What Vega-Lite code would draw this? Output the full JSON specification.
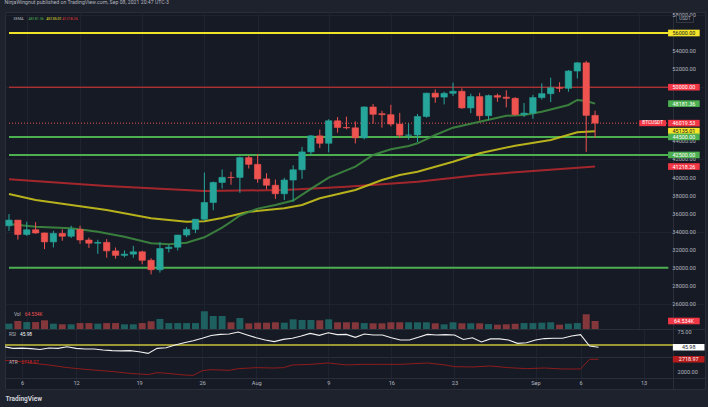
{
  "$schema": "https://vega.github.io/schema/vega-lite/v6.json",
  "background": "#1e222d",
  "padding": {"left": 4, "right": 4, "top": 0, "bottom": 4},
  "spacing": 0,
  "bounds": "flush",
  "title": {"text": "NinjaWingnut published on TradingView.com, Sep 08, 2021 20:47 UTC-3", "anchor": "start", "fontSize": 5.2, "fontWeight": "normal", "color": "#b2b5be", "offset": 9.5, "dy": 3.5},
  "config": {
    "font": "Roboto",
    "view": {"stroke": "#2a2e39", "fill": "#161a25"},
    "concat": {"spacing": 0},
    "axis": {"labelOverlap": false, "minExtent": 0}
  },
  "datasets": {
    "candles": [
      {"date":"2021-07-04","o":34655,"h":35950,"l":34099,"c":35287,"v":43,"dir":"up"},
      {"date":"2021-07-05","o":35287,"h":35293,"l":33125,"c":33690,"v":65,"dir":"down"},
      {"date":"2021-07-06","o":33690,"h":35118,"l":33532,"c":34220,"v":56,"dir":"up"},
      {"date":"2021-07-07","o":34220,"h":35059,"l":33777,"c":33862,"v":56,"dir":"down"},
      {"date":"2021-07-08","o":33862,"h":33900,"l":32077,"c":32875,"v":70,"dir":"down"},
      {"date":"2021-07-09","o":32875,"h":34100,"l":32261,"c":33815,"v":43,"dir":"up"},
      {"date":"2021-07-10","o":33815,"h":34262,"l":33004,"c":33502,"v":38,"dir":"down"},
      {"date":"2021-07-11","o":33502,"h":34666,"l":33306,"c":34259,"v":38,"dir":"up"},
      {"date":"2021-07-12","o":34259,"h":34679,"l":32658,"c":33086,"v":48,"dir":"down"},
      {"date":"2021-07-13","o":33086,"h":33340,"l":32203,"c":32729,"v":48,"dir":"down"},
      {"date":"2021-07-14","o":32729,"h":33114,"l":31550,"c":32820,"v":43,"dir":"up"},
      {"date":"2021-07-15","o":32820,"h":33185,"l":31133,"c":31880,"v":48,"dir":"down"},
      {"date":"2021-07-16","o":31874,"h":32249,"l":31020,"c":31383,"v":48,"dir":"down"},
      {"date":"2021-07-17","o":31384,"h":31935,"l":31164,"c":31520,"v":38,"dir":"up"},
      {"date":"2021-07-18","o":31520,"h":32435,"l":31108,"c":31778,"v":38,"dir":"up"},
      {"date":"2021-07-19","o":31778,"h":31899,"l":30407,"c":30839,"v":48,"dir":"down"},
      {"date":"2021-07-20","o":30839,"h":31063,"l":29278,"c":29790,"v":62,"dir":"down"},
      {"date":"2021-07-21","o":29790,"h":32858,"l":29482,"c":32144,"v":81,"dir":"up"},
      {"date":"2021-07-22","o":32144,"h":32591,"l":31708,"c":32287,"v":48,"dir":"up"},
      {"date":"2021-07-23","o":32287,"h":33650,"l":31925,"c":33634,"v":48,"dir":"up"},
      {"date":"2021-07-24","o":33634,"h":34500,"l":33401,"c":34258,"v":48,"dir":"up"},
      {"date":"2021-07-25","o":34262,"h":35398,"l":33851,"c":35381,"v":48,"dir":"up"},
      {"date":"2021-07-26","o":35381,"h":40550,"l":35205,"c":37237,"v":143,"dir":"up"},
      {"date":"2021-07-27","o":37237,"h":39542,"l":36383,"c":39457,"v":105,"dir":"up"},
      {"date":"2021-07-28","o":39456,"h":40900,"l":38772,"c":40019,"v":105,"dir":"up"},
      {"date":"2021-07-29","o":40019,"h":40640,"l":39200,"c":39990,"v":54,"dir":"down"},
      {"date":"2021-07-30","o":40016,"h":42316,"l":38313,"c":42206,"v":89,"dir":"up"},
      {"date":"2021-07-31","o":42206,"h":42448,"l":41000,"c":41461,"v":46,"dir":"down"},
      {"date":"2021-08-01","o":41461,"h":42599,"l":39422,"c":39846,"v":51,"dir":"down"},
      {"date":"2021-08-02","o":39850,"h":40480,"l":38690,"c":39147,"v":51,"dir":"down"},
      {"date":"2021-08-03","o":39146,"h":39780,"l":37642,"c":38207,"v":54,"dir":"down"},
      {"date":"2021-08-04","o":38207,"h":39969,"l":37508,"c":39723,"v":51,"dir":"up"},
      {"date":"2021-08-05","o":39723,"h":41350,"l":37332,"c":40862,"v":78,"dir":"up"},
      {"date":"2021-08-06","o":40862,"h":43392,"l":39853,"c":42836,"v":73,"dir":"up"},
      {"date":"2021-08-07","o":42836,"h":44700,"l":42446,"c":44614,"v":73,"dir":"up"},
      {"date":"2021-08-08","o":44614,"h":45310,"l":43261,"c":43792,"v":70,"dir":"down"},
      {"date":"2021-08-09","o":43794,"h":46454,"l":42779,"c":46285,"v":78,"dir":"up"},
      {"date":"2021-08-10","o":46280,"h":46700,"l":44961,"c":45543,"v":54,"dir":"down"},
      {"date":"2021-08-11","o":45543,"h":46743,"l":45341,"c":45500,"v":54,"dir":"down"},
      {"date":"2021-08-12","o":45500,"h":46218,"l":43770,"c":44400,"v":54,"dir":"down"},
      {"date":"2021-08-13","o":44400,"h":47886,"l":44217,"c":47810,"v":48,"dir":"up"},
      {"date":"2021-08-14","o":47810,"h":48144,"l":45971,"c":47000,"v":46,"dir":"down"},
      {"date":"2021-08-15","o":47070,"h":47390,"l":45525,"c":46960,"v":46,"dir":"down"},
      {"date":"2021-08-16","o":46960,"h":48054,"l":45660,"c":45921,"v":54,"dir":"down"},
      {"date":"2021-08-17","o":45920,"h":47160,"l":44376,"c":44686,"v":54,"dir":"down"},
      {"date":"2021-08-18","o":44687,"h":46000,"l":44203,"c":44710,"v":54,"dir":"up"},
      {"date":"2021-08-19","o":44710,"h":47033,"l":43927,"c":46760,"v":54,"dir":"up"},
      {"date":"2021-08-20","o":46760,"h":49382,"l":46622,"c":49339,"v":54,"dir":"up"},
      {"date":"2021-08-21","o":49339,"h":49757,"l":48273,"c":48905,"v":46,"dir":"down"},
      {"date":"2021-08-22","o":48906,"h":49500,"l":48100,"c":49321,"v":38,"dir":"up"},
      {"date":"2021-08-23","o":49322,"h":50500,"l":49029,"c":49546,"v":54,"dir":"up"},
      {"date":"2021-08-24","o":49546,"h":49875,"l":47600,"c":47706,"v":46,"dir":"down"},
      {"date":"2021-08-25","o":47707,"h":49284,"l":47120,"c":48960,"v":46,"dir":"up"},
      {"date":"2021-08-26","o":48960,"h":49380,"l":46300,"c":46842,"v":46,"dir":"down"},
      {"date":"2021-08-27","o":46843,"h":49188,"l":46361,"c":49070,"v":40,"dir":"up"},
      {"date":"2021-08-28","o":49070,"h":49300,"l":48381,"c":48895,"v":35,"dir":"down"},
      {"date":"2021-08-29","o":48895,"h":49658,"l":47762,"c":48768,"v":38,"dir":"down"},
      {"date":"2021-08-30","o":48767,"h":48910,"l":46853,"c":46970,"v":43,"dir":"down"},
      {"date":"2021-08-31","o":46970,"h":48246,"l":46700,"c":47130,"v":48,"dir":"up"},
      {"date":"2021-09-01","o":47130,"h":49152,"l":46512,"c":48847,"v":48,"dir":"up"},
      {"date":"2021-09-02","o":48847,"h":50420,"l":48631,"c":49284,"v":51,"dir":"up"},
      {"date":"2021-09-03","o":49279,"h":51051,"l":48349,"c":49942,"v":54,"dir":"up"},
      {"date":"2021-09-04","o":49942,"h":50558,"l":49453,"c":49880,"v":35,"dir":"down"},
      {"date":"2021-09-05","o":49880,"h":51900,"l":49503,"c":51790,"v":43,"dir":"up"},
      {"date":"2021-09-06","o":51790,"h":52780,"l":50970,"c":52698,"v":48,"dir":"up"},
      {"date":"2021-09-07","o":52698,"h":52920,"l":42843,"c":46880,"v":119,"dir":"down"},
      {"date":"2021-09-08","o":46880,"h":47400,"l":44412,"c":46019.53,"v":64.534,"dir":"down"}
    ],
    "ema": [
      {"date":"2021-07-04","e":"e20","p":34856},{"date":"2021-07-07","e":"e20","p":34557},{"date":"2021-07-11","e":"e20","p":34380},
      {"date":"2021-07-14","e":"e20","p":34004},{"date":"2021-07-17","e":"e20","p":33450},{"date":"2021-07-20","e":"e20","p":32720},
      {"date":"2021-07-22","e":"e20","p":32610},{"date":"2021-07-24","e":"e20","p":32786},{"date":"2021-07-26","e":"e20","p":33384},
      {"date":"2021-07-28","e":"e20","p":34450},{"date":"2021-07-29","e":"e20","p":35100},{"date":"2021-07-30","e":"e20","p":35800},
      {"date":"2021-08-01","e":"e20","p":36560},{"date":"2021-08-03","e":"e20","p":36960},{"date":"2021-08-05","e":"e20","p":37450},
      {"date":"2021-08-07","e":"e20","p":38750},{"date":"2021-08-09","e":"e20","p":40000},{"date":"2021-08-12","e":"e20","p":41200},
      {"date":"2021-08-14","e":"e20","p":42495},{"date":"2021-08-16","e":"e20","p":43125},{"date":"2021-08-18","e":"e20","p":43490},
      {"date":"2021-08-19","e":"e20","p":43790},{"date":"2021-08-21","e":"e20","p":44710},{"date":"2021-08-23","e":"e20","p":45517},
      {"date":"2021-08-26","e":"e20","p":46180},{"date":"2021-08-29","e":"e20","p":46845},{"date":"2021-08-31","e":"e20","p":46923},
      {"date":"2021-09-02","e":"e20","p":47290},{"date":"2021-09-05","e":"e20","p":48030},{"date":"2021-09-06","e":"e20","p":48583},
      {"date":"2021-09-07","e":"e20","p":48472},{"date":"2021-09-08","e":"e20","p":48181.36},
      {"date":"2021-07-04","e":"e50","p":38177},{"date":"2021-07-07","e":"e50","p":37513},{"date":"2021-07-15","e":"e50","p":36406},
      {"date":"2021-07-20","e":"e50","p":35487},{"date":"2021-07-24","e":"e50","p":35111},{"date":"2021-07-26","e":"e50","p":35150},
      {"date":"2021-07-28","e":"e50","p":35520},{"date":"2021-07-31","e":"e50","p":36200},{"date":"2021-08-04","e":"e50","p":36594},
      {"date":"2021-08-06","e":"e50","p":36960},{"date":"2021-08-08","e":"e50","p":37700},{"date":"2021-08-12","e":"e50","p":38620},
      {"date":"2021-08-15","e":"e50","p":39727},{"date":"2021-08-17","e":"e50","p":40281},{"date":"2021-08-19","e":"e50","p":40646},
      {"date":"2021-08-23","e":"e50","p":41753},{"date":"2021-08-26","e":"e50","p":42683},{"date":"2021-08-30","e":"e50","p":43524},
      {"date":"2021-09-03","e":"e50","p":44155},{"date":"2021-09-06","e":"e50","p":45007},{"date":"2021-09-07","e":"e50","p":45063},
      {"date":"2021-09-08","e":"e50","p":45135.01},
      {"date":"2021-07-04","e":"e200","p":39805},{"date":"2021-07-15","e":"e200","p":39063},{"date":"2021-07-26","e":"e200","p":38509},
      {"date":"2021-08-04","e":"e200","p":38620},{"date":"2021-08-11","e":"e200","p":38985},{"date":"2021-08-19","e":"e200","p":39539},
      {"date":"2021-08-26","e":"e200","p":40281},{"date":"2021-09-01","e":"e200","p":40723},{"date":"2021-09-08","e":"e200","p":41218.26}
    ],
    "rsi": [
      {"date":"2021-07-04","r":47},{"date":"2021-07-05","r":44},{"date":"2021-07-06","r":44.5},{"date":"2021-07-07","r":43.5},
      {"date":"2021-07-08","r":42},{"date":"2021-07-09","r":44.6},{"date":"2021-07-10","r":44},{"date":"2021-07-11","r":47},
      {"date":"2021-07-12","r":44},{"date":"2021-07-13","r":43},{"date":"2021-07-14","r":43},{"date":"2021-07-15","r":41},
      {"date":"2021-07-16","r":40},{"date":"2021-07-17","r":39.5},{"date":"2021-07-18","r":39.9},{"date":"2021-07-19","r":38},
      {"date":"2021-07-20","r":35.1},{"date":"2021-07-21","r":44},{"date":"2021-07-22","r":45.2},{"date":"2021-07-23","r":50},
      {"date":"2021-07-24","r":54.2},{"date":"2021-07-25","r":57.7},{"date":"2021-07-26","r":62},{"date":"2021-07-27","r":67},
      {"date":"2021-07-28","r":69},{"date":"2021-07-29","r":69.6},{"date":"2021-07-30","r":73.2},{"date":"2021-07-31","r":68},
      {"date":"2021-08-01","r":63},{"date":"2021-08-02","r":59},{"date":"2021-08-03","r":56},{"date":"2021-08-04","r":60},
      {"date":"2021-08-05","r":62},{"date":"2021-08-06","r":66},{"date":"2021-08-07","r":70.8},{"date":"2021-08-08","r":67.2},
      {"date":"2021-08-09","r":71.9},{"date":"2021-08-10","r":68.5},{"date":"2021-08-11","r":69},{"date":"2021-08-12","r":63.7},
      {"date":"2021-08-13","r":69.6},{"date":"2021-08-14","r":68},{"date":"2021-08-15","r":67.8},{"date":"2021-08-16","r":63},
      {"date":"2021-08-17","r":58.9},{"date":"2021-08-18","r":59},{"date":"2021-08-19","r":64},{"date":"2021-08-20","r":69},
      {"date":"2021-08-21","r":68},{"date":"2021-08-22","r":68.5},{"date":"2021-08-23","r":67.8},{"date":"2021-08-24","r":60},
      {"date":"2021-08-25","r":63},{"date":"2021-08-26","r":55.5},{"date":"2021-08-27","r":61},{"date":"2021-08-28","r":61},
      {"date":"2021-08-29","r":59},{"date":"2021-08-30","r":53},{"date":"2021-08-31","r":54},{"date":"2021-09-01","r":59},
      {"date":"2021-09-02","r":61.5},{"date":"2021-09-03","r":62},{"date":"2021-09-04","r":62},{"date":"2021-09-05","r":66},
      {"date":"2021-09-06","r":68.4},{"date":"2021-09-07","r":48.2},{"date":"2021-09-08","r":45.98}
    ],
    "atr": [
      {"date":"2021-07-04","a":2661},{"date":"2021-07-06","a":2585},{"date":"2021-07-08","a":2450},{"date":"2021-07-09","a":2396},
      {"date":"2021-07-11","a":2250},{"date":"2021-07-13","a":2150},{"date":"2021-07-16","a":2030},{"date":"2021-07-18","a":1920},
      {"date":"2021-07-20","a":1855},{"date":"2021-07-21","a":1962},{"date":"2021-07-22","a":1930},{"date":"2021-07-24","a":1830},
      {"date":"2021-07-25","a":1811},{"date":"2021-07-26","a":2075},{"date":"2021-07-27","a":2132},{"date":"2021-07-29","a":2094},
      {"date":"2021-07-30","a":2189},{"date":"2021-08-01","a":2245},{"date":"2021-08-03","a":2226},{"date":"2021-08-04","a":2245},
      {"date":"2021-08-05","a":2396},{"date":"2021-08-07","a":2434},{"date":"2021-08-09","a":2510},{"date":"2021-08-11","a":2400},
      {"date":"2021-08-13","a":2434},{"date":"2021-08-15","a":2434},{"date":"2021-08-17","a":2434},{"date":"2021-08-20","a":2510},
      {"date":"2021-08-22","a":2396},{"date":"2021-08-23","a":2302},{"date":"2021-08-25","a":2283},{"date":"2021-08-27","a":2340},
      {"date":"2021-08-29","a":2245},{"date":"2021-08-31","a":2189},{"date":"2021-09-02","a":2226},{"date":"2021-09-04","a":2170},
      {"date":"2021-09-06","a":2170},{"date":"2021-09-07","a":2717},{"date":"2021-09-08","a":2718.97}
    ]
  },
  "vconcat": [
    {
      "width": 700,
      "height": 317,
      "layer": [
        {
          "data": {"name": "candles"},
          "layer": [
            {
              "mark": {"type": "bar", "size": 7, "opacity": 0.5, "clip": true},
              "encoding": {
                "x": {"field": "date", "type": "temporal", "title": null, "scale": {"type": "utc", "domain": [1625366580000, 1632079920000]},
                  "axis": {"values": [1625529600000,1626048000000,1626652800000,1627257600000,1627776000000,1628467200000,1629072000000,1629676800000,1630454400000,1630886400000,1631491200000],
                    "labels": false, "ticks": false, "domain": false, "grid": true, "gridColor": "#1f2330", "title": null, "minExtent": 0, "maxExtent": 0, "labelPadding": 0}},
                "y": {"field": "v", "type": "quantitative", "scale": {"domain": [0, 2558], "nice": false}, "axis": null, "title": null},
                "color": {"field": "dir", "type": "nominal", "scale": {"domain": ["up", "down"], "range": ["#26a69a", "#ef5350"]}, "legend": null}
              }
            },
            {
              "mark": {"type": "point", "shape": "M-1,-0.21H1V0.21H-1Z", "filled": true, "size": 1000, "opacity": 1, "color": "#f23645"},
              "transform": [{"filter": "time(toDate(datum.date)) == 1631059200000"}],
              "encoding": {
                "x": {"datum": 1631923200000, "type": "temporal", "title": null, "scale": {"type": "utc", "domain": [1625366580000, 1632079920000]}},
                "y": {"field": "v", "type": "quantitative", "scale": {"domain": [0, 2558], "nice": false}, "axis": null, "title": null}
              }
            },
            {
              "mark": {"type": "text", "fontSize": 5.4, "color": "#ffffff", "align": "center", "baseline": "middle"},
              "transform": [{"filter": "time(toDate(datum.date)) == 1631059200000"}],
              "encoding": {
                "x": {"datum": 1631923200000, "type": "temporal", "title": null, "scale": {"type": "utc", "domain": [1625366580000, 1632079920000]}},
                "y": {"field": "v", "type": "quantitative", "scale": {"domain": [0, 2558], "nice": false}, "axis": null, "title": null},
                "text": {"value": "64.534K"}
              }
            },
            {
              "mark": {"type": "text", "fontSize": 4.8, "color": "#b2b5be", "align": "left", "baseline": "middle"},
              "transform": [{"filter": "time(toDate(datum.date)) == 1631059200000"}],
              "encoding": {
                "x": {"datum": 1625404800000, "type": "temporal", "title": null, "scale": {"type": "utc", "domain": [1625366580000, 1632079920000]}},
                "y": {"datum": 113, "type": "quantitative", "scale": {"domain": [0, 2558], "nice": false}, "axis": null, "title": null},
                "text": {"value": "Vol"}
              }
            },
            {
              "mark": {"type": "text", "fontSize": 4.8, "color": "#ef5350", "align": "left", "baseline": "middle"},
              "transform": [{"filter": "time(toDate(datum.date)) == 1631059200000"}],
              "encoding": {
                "x": {"datum": 1625510400000, "type": "temporal", "title": null, "scale": {"type": "utc", "domain": [1625366580000, 1632079920000]}},
                "y": {"datum": 113, "type": "quantitative", "scale": {"domain": [0, 2558], "nice": false}, "axis": null, "title": null},
                "text": {"value": "64.534K"}
              }
            }
          ]
        },
        {
          "layer": [
            {
              "data": {"values": [
                {"p":56000,"k":"yellow"},{"p":44500,"k":"green"},{"p":42500,"k":"green"},{"p":30000,"k":"green"}
              ]},
              "mark": {"type": "rule", "clip": true, "strokeWidth": 2},
              "encoding": {
                "x": {"datum": 1625356800000, "type": "temporal", "title": null, "scale": {"type": "utc", "domain": [1625366580000, 1632079920000]}},
                "x2": {"datum": 1631772000000},
                "y": {"field": "p", "type": "quantitative", "title": null,
                  "scale": {"domain": [23232, 58325], "nice": false, "zero": false},
                  "axis": {"orient": "right", "offset": -32, "values": [26000,28000,30000,32000,34000,36000,38000,40000,42000,44000,46000,48000,50000,52000,54000,56000,58000],
                    "labels": false, "ticks": false, "domainColor": "#2a2e39", "grid": true, "gridColor": "#1f2330", "title": null, "minExtent": 0, "maxExtent": 0}},
                "color": {"field": "k", "type": "nominal", "scale": {"domain": ["yellow", "green"], "range": ["#f0e42a", "#4caf50"]}, "legend": null}
              }
            },
            {
              "data": {"values": [{"p":50000,"k":"red"}]},
              "mark": {"type": "rule", "clip": true, "strokeWidth": 1, "color": "#e53935"},
              "encoding": {
                "x": {"datum": 1625356800000, "type": "temporal", "title": null, "scale": {"type": "utc", "domain": [1625366580000, 1632079920000]}},
                "x2": {"datum": 1631772000000},
                "y": {"field": "p", "type": "quantitative", "title": null, "scale": {"domain": [23232, 58325], "nice": false, "zero": false}}
              }
            },
            {
              "data": {"name": "candles"},
              "transform": [{"filter": "time(toDate(datum.date)) == 1631059200000"}],
              "mark": {"type": "rule", "clip": true, "color": "#ef5350", "strokeDash": [1, 2], "strokeWidth": 1},
              "encoding": {
                "x": {"datum": 1625356800000, "type": "temporal", "title": null, "scale": {"type": "utc", "domain": [1625366580000, 1632079920000]}},
                "x2": {"datum": 1631772000000},
                "y": {"field": "c", "type": "quantitative", "title": null, "scale": {"domain": [23232, 58325], "nice": false, "zero": false}}
              }
            },
            {
              "data": {"name": "ema"},
              "transform": [{"filter": "datum.e == 'e200'"}],
              "mark": {"type": "line", "clip": true, "color": "#b3282d", "strokeWidth": 2, "opacity": 0.9},
              "encoding": {
                "x": {"field": "date", "type": "temporal", "title": null, "scale": {"type": "utc", "domain": [1625366580000, 1632079920000]}},
                "y": {"field": "p", "type": "quantitative", "title": null, "scale": {"domain": [23232, 58325], "nice": false, "zero": false}}
              }
            },
            {
              "data": {"name": "ema"},
              "transform": [{"filter": "datum.e == 'e50'"}],
              "mark": {"type": "line", "clip": true, "color": "#c9c21c", "strokeWidth": 2, "opacity": 0.9},
              "encoding": {
                "x": {"field": "date", "type": "temporal", "title": null, "scale": {"type": "utc", "domain": [1625366580000, 1632079920000]}},
                "y": {"field": "p", "type": "quantitative", "title": null, "scale": {"domain": [23232, 58325], "nice": false, "zero": false}}
              }
            },
            {
              "data": {"name": "ema"},
              "transform": [{"filter": "datum.e == 'e20'"}],
              "mark": {"type": "line", "clip": true, "color": "#3e8a40", "strokeWidth": 2, "opacity": 0.9},
              "encoding": {
                "x": {"field": "date", "type": "temporal", "title": null, "scale": {"type": "utc", "domain": [1625366580000, 1632079920000]}},
                "y": {"field": "p", "type": "quantitative", "title": null, "scale": {"domain": [23232, 58325], "nice": false, "zero": false}}
              }
            },
            {
              "data": {"name": "candles"},
              "mark": {"type": "rule", "clip": true, "strokeWidth": 1},
              "encoding": {
                "x": {"field": "date", "type": "temporal", "title": null, "scale": {"type": "utc", "domain": [1625366580000, 1632079920000]}},
                "y": {"field": "l", "type": "quantitative", "title": null, "scale": {"domain": [23232, 58325], "nice": false, "zero": false}},
                "y2": {"field": "h"},
                "color": {"field": "dir", "type": "nominal", "scale": {"domain": ["up", "down"], "range": ["#26a69a", "#ef5350"]}, "legend": null}
              }
            },
            {
              "data": {"name": "candles"},
              "mark": {"type": "bar", "clip": true, "size": 6.4, "strokeWidth": 0.6},
              "encoding": {
                "x": {"field": "date", "type": "temporal", "title": null, "scale": {"type": "utc", "domain": [1625366580000, 1632079920000]}},
                "y": {"field": "o", "type": "quantitative", "title": null, "scale": {"domain": [23232, 58325], "nice": false, "zero": false}},
                "y2": {"field": "c"},
                "color": {"field": "dir", "type": "nominal", "scale": {"domain": ["up", "down"], "range": ["#26a69a", "#ef5350"]}, "legend": null},
                "stroke": {"field": "dir", "type": "nominal", "scale": {"domain": ["up", "down"], "range": ["#26a69a", "#ef5350"]}, "legend": null}
              }
            },
            {
              "data": {"name": "candles"},
              "transform": [{"filter": "time(toDate(datum.date)) == 1631059200000"}],
              "mark": {"type": "point", "shape": "M-1,-0.225H1V0.225H-1Z", "filled": true, "size": 713, "opacity": 1, "color": "#f23645"},
              "encoding": {
                "x": {"datum": 1631619000000, "type": "temporal", "title": null, "scale": {"type": "utc", "domain": [1625366580000, 1632079920000]}},
                "y": {"field": "c", "type": "quantitative", "title": null, "scale": {"domain": [23232, 58325], "nice": false, "zero": false}}
              }
            },
            {
              "data": {"name": "candles"},
              "transform": [{"filter": "time(toDate(datum.date)) == 1631059200000"}],
              "mark": {"type": "text", "fontSize": 4.8, "color": "#ffffff", "align": "center", "baseline": "middle"},
              "encoding": {
                "x": {"datum": 1631619000000, "type": "temporal", "title": null, "scale": {"type": "utc", "domain": [1625366580000, 1632079920000]}},
                "y": {"field": "c", "type": "quantitative", "title": null, "scale": {"domain": [23232, 58325], "nice": false, "zero": false}},
                "text": {"value": "BTCUSDT"}
              }
            },
            {
              "data": {"values": [{"p":26000},{"p":28000},{"p":30000},{"p":32000},{"p":34000},{"p":36000},{"p":38000},{"p":40000},{"p":42000},{"p":44000},{"p":50000},{"p":52000},{"p":54000},{"p":56000},{"p":58000}]},
              "mark": {"type": "text", "fontSize": 5.6, "color": "#b2b5be", "align": "left", "baseline": "middle"},
              "encoding": {
                "x": {"datum": 1631810880000, "type": "temporal", "title": null, "scale": {"type": "utc", "domain": [1625366580000, 1632079920000]}},
                "y": {"field": "p", "type": "quantitative", "title": null, "scale": {"domain": [23232, 58325], "nice": false, "zero": false}},
                "text": {"field": "p", "format": ".2f"}
              }
            },
            {
              "data": {"values": [
                {"p":56000,"t":"56000.00","k":"yellow"},
                {"p":50000,"t":"50000.00","k":"red"},
                {"p":48181.36,"t":"48181.36","k":"green"},
                {"p":41218.26,"t":"41218.26","k":"red"},
                {"p":42500,"t":"42500.00","k":"green"},
                {"p":46019.53,"t":"46019.53","k":"red"},
                {"p":45135.01,"t":"45135.01","k":"yellow"},
                {"p":44500,"t":"44500.00","k":"green"}
              ]},
              "layer": [
                {
                  "mark": {"type": "point", "shape": "M-1,-0.21H1V0.21H-1Z", "filled": true, "size": 1000, "opacity": 1},
                  "encoding": {
                    "x": {"datum": 1631923200000, "type": "temporal", "title": null, "scale": {"type": "utc", "domain": [1625366580000, 1632079920000]}},
                    "y": {"field": "p", "type": "quantitative", "title": null, "scale": {"domain": [23232, 58325], "nice": false, "zero": false}},
                    "color": {"field": "k", "type": "nominal", "scale": {"domain": ["yellow", "red", "green"], "range": ["#f5e52a", "#f23645", "#4caf50"]}, "legend": null}
                  }
                },
                {
                  "mark": {"type": "text", "fontSize": 5.4, "align": "center", "baseline": "middle"},
                  "encoding": {
                    "x": {"datum": 1631923200000, "type": "temporal", "title": null, "scale": {"type": "utc", "domain": [1625366580000, 1632079920000]}},
                    "y": {"field": "p", "type": "quantitative", "title": null, "scale": {"domain": [23232, 58325], "nice": false, "zero": false}},
                    "text": {"field": "t"},
                    "color": {"field": "k", "type": "nominal", "scale": {"domain": ["yellow", "red", "green"], "range": ["#131722", "#ffffff", "#ffffff"]}, "legend": null}
                  }
                }
              ],
              "resolve": {"scale": {"color": "independent"}}
            },
            {
              "data": {"values": [{"t": "USDT", "l": "3EMA"}]},
              "layer": [
                {
                  "mark": {"type": "point", "shape": "M-1,-0.4H1V0.4H-1Z", "filled": true, "size": 289, "opacity": 1, "color": "#161a25", "stroke": "#50535e", "strokeWidth": 0.6},
                  "encoding": {
                    "x": {"datum": 1631934000000, "type": "temporal", "title": null, "scale": {"type": "utc", "domain": [1625366580000, 1632079920000]}},
                    "y": {"datum": 57550, "type": "quantitative", "title": null, "scale": {"domain": [23232, 58325], "nice": false, "zero": false}}
                  }
                },
                {
                  "mark": {"type": "text", "fontSize": 4.6, "color": "#b2b5be", "align": "center", "baseline": "middle"},
                  "encoding": {
                    "x": {"datum": 1631934000000, "type": "temporal", "title": null, "scale": {"type": "utc", "domain": [1625366580000, 1632079920000]}},
                    "y": {"datum": 57550, "type": "quantitative", "title": null, "scale": {"domain": [23232, 58325], "nice": false, "zero": false}},
                    "text": {"field": "t"}
                  }
                },
                {
                  "mark": {"type": "text", "fontSize": 3.9, "color": "#b2b5be", "align": "left", "baseline": "middle"},
                  "encoding": {
                    "x": {"datum": 1625398200000, "type": "temporal", "title": null, "scale": {"type": "utc", "domain": [1625366580000, 1632079920000]}},
                    "y": {"datum": 57550, "type": "quantitative", "title": null, "scale": {"domain": [23232, 58325], "nice": false, "zero": false}},
                    "text": {"field": "l"}
                  }
                }
              ]
            },
            {
              "data": {"name": "ema"},
              "transform": [{"filter": "datum.e == 'e20' && time(toDate(datum.date)) == 1631059200000"}],
              "mark": {"type": "text", "fontSize": 3.7, "color": "#4caf50", "align": "left", "baseline": "middle"},
              "encoding": {
                "x": {"datum": 1625545930000, "type": "temporal", "title": null, "scale": {"type": "utc", "domain": [1625366580000, 1632079920000]}},
                "y": {"datum": 57550, "type": "quantitative", "title": null, "scale": {"domain": [23232, 58325], "nice": false, "zero": false}},
                "text": {"field": "p", "format": ".2f"}
              }
            },
            {
              "data": {"name": "ema"},
              "transform": [{"filter": "datum.e == 'e50' && time(toDate(datum.date)) == 1631059200000"}],
              "mark": {"type": "text", "fontSize": 3.7, "color": "#e8e22a", "align": "left", "baseline": "middle"},
              "encoding": {
                "x": {"datum": 1625718500000, "type": "temporal", "title": null, "scale": {"type": "utc", "domain": [1625366580000, 1632079920000]}},
                "y": {"datum": 57550, "type": "quantitative", "title": null, "scale": {"domain": [23232, 58325], "nice": false, "zero": false}},
                "text": {"field": "p", "format": ".2f"}
              }
            },
            {
              "data": {"name": "ema"},
              "transform": [{"filter": "datum.e == 'e200' && time(toDate(datum.date)) == 1631059200000"}],
              "mark": {"type": "text", "fontSize": 3.7, "color": "#e53935", "align": "left", "baseline": "middle"},
              "encoding": {
                "x": {"datum": 1625875200000, "type": "temporal", "title": null, "scale": {"type": "utc", "domain": [1625366580000, 1632079920000]}},
                "y": {"datum": 57550, "type": "quantitative", "title": null, "scale": {"domain": [23232, 58325], "nice": false, "zero": false}},
                "text": {"field": "p", "format": ".2f"}
              }
            }
          ],
          "resolve": {"scale": {"color": "independent", "stroke": "independent"}}
        }
      ],
      "resolve": {"scale": {"y": "independent", "color": "independent"}}
    },
    {
      "width": 700,
      "height": 28,
      "data": {"name": "rsi"},
      "layer": [
        {
          "transform": [{"filter": "time(toDate(datum.date)) == 1631059200000"}],
          "mark": {"type": "rule", "color": "#c9c23a", "strokeWidth": 1.5, "clip": true},
          "encoding": {
            "x": {"datum": 1625356800000, "type": "temporal", "title": null, "scale": {"type": "utc", "domain": [1625366580000, 1632079920000]}},
            "x2": {"datum": 1631772000000},
            "y": {"datum": 50, "type": "quantitative", "title": null,
              "scale": {"domain": [28.6, 78.6], "nice": false, "zero": false},
              "axis": {"orient": "right", "offset": -32, "values": [75], "format": ".2f", "labelColor": "#b2b5be", "labelFontSize": 5.6, "labelPadding": 4, "ticks": false, "domainColor": "#2a2e39", "grid": false, "title": null, "labelFlush": false, "minExtent": 0, "maxExtent": 0}}
          }
        },
        {
          "mark": {"type": "line", "color": "#f0f0f0", "strokeWidth": 1.1, "clip": true},
          "encoding": {
            "x": {"field": "date", "type": "temporal", "title": null, "scale": {"type": "utc", "domain": [1625366580000, 1632079920000]},
              "axis": {"values": [1625529600000,1626048000000,1626652800000,1627257600000,1627776000000,1628467200000,1629072000000,1629676800000,1630454400000,1630886400000,1631491200000],
                "labels": false, "ticks": false, "domain": false, "grid": true, "gridColor": "#1f2330", "title": null, "minExtent": 0, "maxExtent": 0, "labelPadding": 0}},
            "y": {"field": "r", "type": "quantitative", "title": null, "scale": {"domain": [28.6, 78.6], "nice": false, "zero": false}}
          }
        },
        {
          "transform": [{"filter": "time(toDate(datum.date)) == 1631059200000"}],
          "mark": {"type": "point", "shape": "M-1,-0.21H1V0.21H-1Z", "filled": true, "size": 1000, "opacity": 1, "color": "#ffffff"},
          "encoding": {
            "x": {"datum": 1631923200000, "type": "temporal", "title": null, "scale": {"type": "utc", "domain": [1625366580000, 1632079920000]}},
            "y": {"field": "r", "type": "quantitative", "title": null, "scale": {"domain": [28.6, 78.6], "nice": false, "zero": false}}
          }
        },
        {
          "transform": [{"filter": "time(toDate(datum.date)) == 1631059200000"}],
          "mark": {"type": "text", "fontSize": 5.4, "color": "#131722", "align": "center", "baseline": "middle"},
          "encoding": {
            "x": {"datum": 1631923200000, "type": "temporal", "title": null, "scale": {"type": "utc", "domain": [1625366580000, 1632079920000]}},
            "y": {"field": "r", "type": "quantitative", "title": null, "scale": {"domain": [28.6, 78.6], "nice": false, "zero": false}},
            "text": {"field": "r", "format": ".2f"}
          }
        },
        {
          "transform": [{"filter": "time(toDate(datum.date)) == 1631059200000"}],
          "mark": {"type": "text", "fontSize": 4.8, "color": "#b2b5be", "align": "left", "baseline": "middle"},
          "encoding": {
            "x": {"datum": 1625404800000, "type": "temporal", "title": null, "scale": {"type": "utc", "domain": [1625366580000, 1632079920000]}},
            "y": {"datum": 67.9, "type": "quantitative", "title": null, "scale": {"domain": [28.6, 78.6], "nice": false, "zero": false}},
            "text": {"value": "RSI"}
          }
        },
        {
          "transform": [{"filter": "time(toDate(datum.date)) == 1631059200000"}],
          "mark": {"type": "text", "fontSize": 4.8, "color": "#ffffff", "align": "left", "baseline": "middle"},
          "encoding": {
            "x": {"datum": 1625510400000, "type": "temporal", "title": null, "scale": {"type": "utc", "domain": [1625366580000, 1632079920000]}},
            "y": {"datum": 67.9, "type": "quantitative", "title": null, "scale": {"domain": [28.6, 78.6], "nice": false, "zero": false}},
            "text": {"field": "r", "format": ".2f"}
          }
        }
      ]
    },
    {
      "width": 700,
      "height": 32,
      "data": {"name": "atr"},
      "layer": [
        {
          "mark": {"type": "line", "color": "#8e1c1c", "strokeWidth": 1, "clip": true},
          "encoding": {
            "x": {"field": "date", "type": "temporal", "title": "TradingView", "scale": {"type": "utc", "domain": [1625366580000, 1632079920000]},
              "axis": {"values": [1625529600000,1626048000000,1626652800000,1627257600000,1627776000000,1628467200000,1629072000000,1629676800000,1630454400000,1630886400000,1631491200000],
                "labelExpr": "utcdate(datum.value) == 1 ? utcFormat(datum.value, '%b') : utcFormat(datum.value, '%-d')",
                "labelColor": "#b2b5be", "labelFontSize": 5.6, "labelPadding": 2, "ticks": false, "domain": true, "domainColor": "#2a2e39",
                "grid": true, "gridColor": "#1f2330", "offset": -11, "labelFlush": false,
                "title": "TradingView", "titleAnchor": "start", "titleAlign": "left", "titleColor": "#d1d4dc", "titleFontSize": 6.5, "titleFontWeight": "bold", "titlePadding": 10}},
            "y": {"field": "a", "type": "quantitative", "title": null,
              "scale": {"domain": [1037, 2849], "nice": false, "zero": false},
              "axis": {"orient": "right", "offset": -32, "values": [2000], "format": ".2f", "labelColor": "#b2b5be", "labelFontSize": 5.6, "labelPadding": 4, "ticks": false, "domainColor": "#2a2e39", "grid": false, "title": null, "labelFlush": false, "minExtent": 0, "maxExtent": 0}}
          }
        },
        {
          "transform": [{"filter": "time(toDate(datum.date)) == 1631059200000"}],
          "mark": {"type": "point", "shape": "M-1,-0.21H1V0.21H-1Z", "filled": true, "size": 1000, "opacity": 1, "color": "#b71c1c"},
          "encoding": {
            "x": {"datum": 1631923200000, "type": "temporal", "title": null, "scale": {"type": "utc", "domain": [1625366580000, 1632079920000]}},
            "y": {"field": "a", "type": "quantitative", "title": null, "scale": {"domain": [1037, 2849], "nice": false, "zero": false}}
          }
        },
        {
          "transform": [{"filter": "time(toDate(datum.date)) == 1631059200000"}],
          "mark": {"type": "text", "fontSize": 5.4, "color": "#ffffff", "align": "center", "baseline": "middle"},
          "encoding": {
            "x": {"datum": 1631923200000, "type": "temporal", "title": null, "scale": {"type": "utc", "domain": [1625366580000, 1632079920000]}},
            "y": {"field": "a", "type": "quantitative", "title": null, "scale": {"domain": [1037, 2849], "nice": false, "zero": false}},
            "text": {"field": "a", "format": ".2f"}
          }
        },
        {
          "transform": [{"filter": "time(toDate(datum.date)) == 1631059200000"}],
          "mark": {"type": "text", "fontSize": 4.8, "color": "#b2b5be", "align": "left", "baseline": "middle"},
          "encoding": {
            "x": {"datum": 1625404800000, "type": "temporal", "title": null, "scale": {"type": "utc", "domain": [1625366580000, 1632079920000]}},
            "y": {"datum": 2510, "type": "quantitative", "title": null, "scale": {"domain": [1037, 2849], "nice": false, "zero": false}},
            "text": {"value": "ATR"}
          }
        },
        {
          "transform": [{"filter": "time(toDate(datum.date)) == 1631059200000"}],
          "mark": {"type": "text", "fontSize": 4.8, "color": "#c62828", "align": "left", "baseline": "middle"},
          "encoding": {
            "x": {"datum": 1625522400000, "type": "temporal", "title": null, "scale": {"type": "utc", "domain": [1625366580000, 1632079920000]}},
            "y": {"datum": 2510, "type": "quantitative", "title": null, "scale": {"domain": [1037, 2849], "nice": false, "zero": false}},
            "text": {"field": "a", "format": ".2f"}
          }
        }
      ]
    }
  ]
}
